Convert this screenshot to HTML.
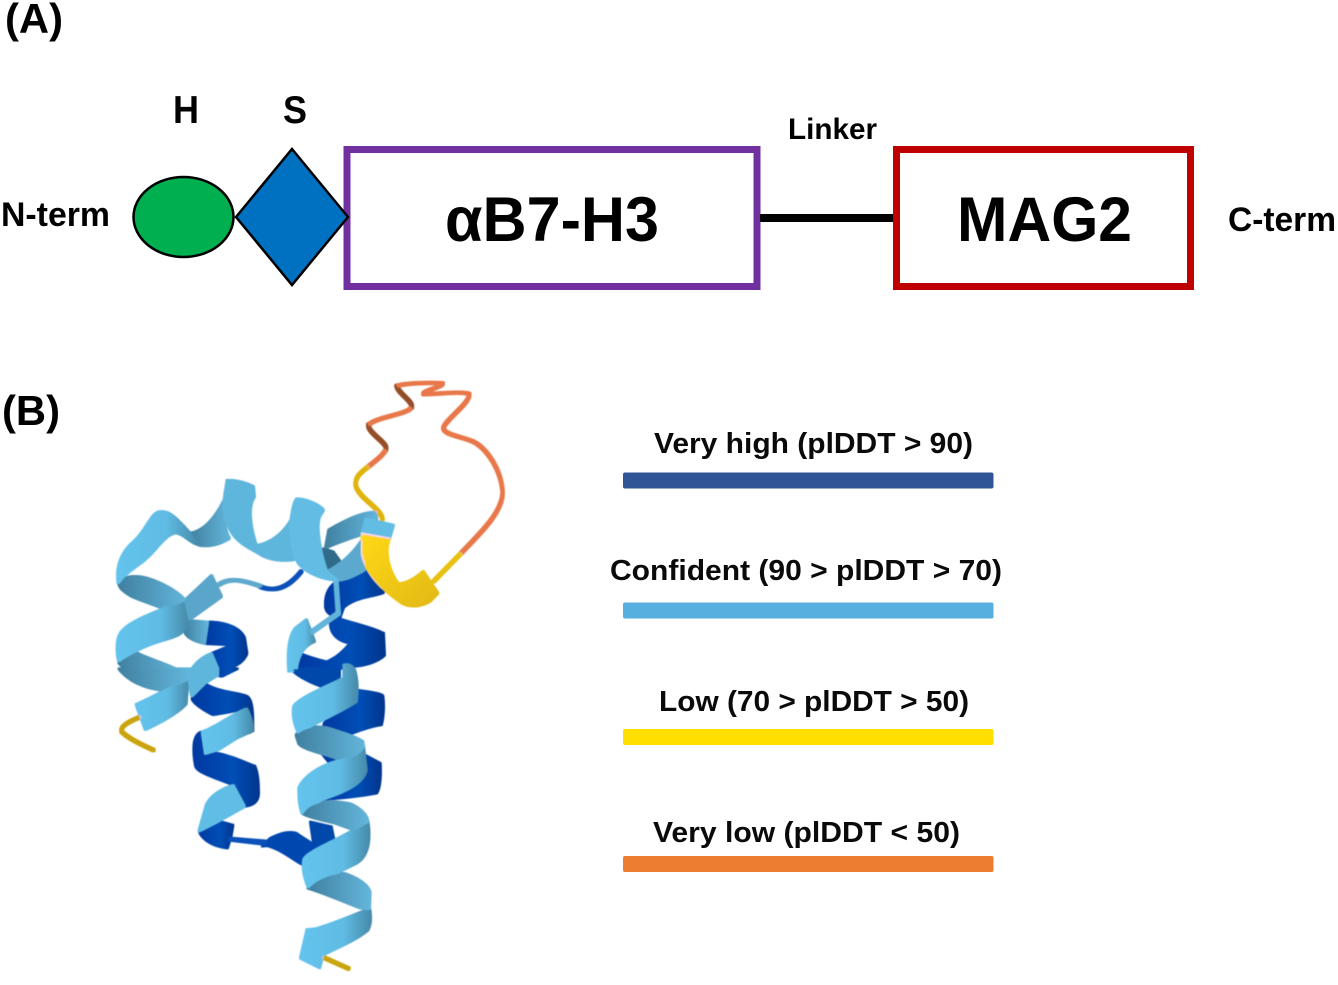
<!DOCTYPE html>
<html>
<head>
<meta charset="utf-8">
<style>
html,body{margin:0;padding:0;background:#fff;}
svg{display:block;}
text{font-family:"Liberation Sans",sans-serif;font-weight:bold;fill:#000;}
.lg{font-size:29px;fill:#0a0a0a;}
</style>
</head>
<body>
<svg width="1338" height="985" viewBox="0 0 1338 985" xmlns="http://www.w3.org/2000/svg">
<defs>
<linearGradient id="mid" x1="0" y1="0" x2="1" y2="0"><stop offset="0" stop-color="#3f7f9f"/><stop offset="1" stop-color="#62b4da"/></linearGradient>
<linearGradient id="lt" x1="0" y1="0" x2="1" y2="0"><stop offset="0" stop-color="#63c3ec"/><stop offset=".6" stop-color="#5fbbe3"/><stop offset="1" stop-color="#4588a8"/></linearGradient>
<linearGradient id="dk" x1="0" y1="0" x2="1" y2="0"><stop offset="0" stop-color="#0038a0"/><stop offset=".6" stop-color="#004db5"/><stop offset="1" stop-color="#00348c"/></linearGradient>
<linearGradient id="yl" x1="0" y1="0" x2="1" y2="1"><stop offset="0" stop-color="#ffd816"/><stop offset="1" stop-color="#e0b814"/></linearGradient>
<filter id="soft" filterUnits="userSpaceOnUse" x="80" y="360" width="450" height="620" color-interpolation-filters="sRGB">
  <feMorphology operator="dilate" radius="1"/>
  <feGaussianBlur stdDeviation="0.6"/>
</filter>
</defs>

<!-- Panel A -->
<text x="5" y="33" font-size="42" textLength="58" lengthAdjust="spacingAndGlyphs">(A)</text>
<text x="173" y="123" font-size="39" textLength="26" lengthAdjust="spacingAndGlyphs">H</text>
<text x="283" y="123" font-size="39" textLength="24" lengthAdjust="spacingAndGlyphs">S</text>
<text x="788" y="139" font-size="30" textLength="89" lengthAdjust="spacingAndGlyphs">Linker</text>
<text x="1" y="226" font-size="34" textLength="109" lengthAdjust="spacingAndGlyphs">N-term</text>
<text x="1228" y="231" font-size="34" textLength="108" lengthAdjust="spacingAndGlyphs">C-term</text>

<rect x="347" y="149.500" width="410" height="137" fill="none" stroke="#7030a0" stroke-width="7"/>
<rect x="896.500" y="149.500" width="294" height="137" fill="none" stroke="#c00000" stroke-width="7"/>
<ellipse cx="183.500" cy="217" rx="50" ry="40" fill="#00b050" stroke="#000" stroke-width="2.500"/>
<polygon points="292,149 348,217 292,285 236,217" fill="#0070c0" stroke="#000" stroke-width="2.500"/>
<rect x="760" y="214" width="133" height="8" fill="#000"/>
<text x="445" y="241" font-size="63" textLength="214" lengthAdjust="spacingAndGlyphs">αB7-H3</text>
<text x="957" y="241" font-size="63" textLength="175" lengthAdjust="spacingAndGlyphs">MAG2</text>

<!-- Panel B -->
<text x="2" y="425" font-size="42" textLength="58" lengthAdjust="spacingAndGlyphs">(B)</text>

<text class="lg" x="654" y="453" textLength="319" lengthAdjust="spacingAndGlyphs">Very high (plDDT &gt; 90)</text>
<rect x="623" y="472.500" width="370.500" height="16" rx="2" fill="#2f5597"/>
<text class="lg" x="610" y="580" textLength="392" lengthAdjust="spacingAndGlyphs">Confident (90 &gt; plDDT &gt; 70)</text>
<rect x="623" y="602.500" width="370.500" height="16" rx="2" fill="#56afdf"/>
<text class="lg" x="659" y="711" textLength="310" lengthAdjust="spacingAndGlyphs">Low (70 &gt; plDDT &gt; 50)</text>
<rect x="623" y="729" width="370.500" height="16" rx="2" fill="#ffdf00"/>
<text class="lg" x="653" y="842" textLength="307" lengthAdjust="spacingAndGlyphs">Very low (plDDT &lt; 50)</text>
<rect x="623" y="856" width="370.500" height="16" rx="2" fill="#ed7d31"/>

<g filter="url(#soft)">
<!-- Protein: upper part -->
<g transform="translate(90,370) scale(0.3333)">
  <!-- loops -->
  <path d="M1030,635 L1115,548" fill="none" stroke="#e8c010" stroke-width="8"/>
  <path d="M1115,548 C1170,490 1235,430 1238,370 C1235,300 1190,235 1150,215 C1110,198 1065,195 1060,175 C1065,150 1140,100 1138,72 C1110,62 1020,75 1000,72 C1000,62 1060,50 1058,40 C1030,38 950,38 920,48 C925,70 970,95 965,112 C950,135 860,140 835,165 C835,190 895,220 888,238 C880,255 860,270 835,290" fill="none" stroke="#e8784a" stroke-width="8" stroke-linejoin="round" stroke-linecap="round"/>
  <path d="M920,48 C925,70 970,95 965,112 M835,165 C835,190 895,220 888,238" fill="none" stroke="#8e4a26" stroke-width="8" stroke-linecap="round"/>
  <path d="M835,290 C815,305 795,320 797,345 C805,385 875,415 878,450" fill="none" stroke="#e0b40c" stroke-width="8"/>

  <!-- thin connector left -->
  <path d="M385,645 C420,620 465,632 515,650" fill="none" stroke="#5fa9cc" stroke-width="8"/>
  <path d="M510,650 C550,665 590,660 635,603" fill="none" stroke="#0b4fb8" stroke-width="8"/>

  <!-- back band -->
  <path d="M705,535 L715,480 C750,460 810,425 860,425 L862,450 L830,490 C780,505 740,520 705,535 Z" fill="url(#mid)"/>
  <path d="M700,535 C695,560 710,595 720,610 L755,580 L730,545 Z" fill="#2f6a88"/>

  <!-- dark blue right upper -->
  <path d="M745,632 L825,600 L882,668 C850,682 800,680 762,712 L750,745 C730,740 705,730 705,705 C705,670 720,645 745,632 Z" fill="url(#dk)"/>
  <path d="M620,845 C650,860 690,870 710,875 C750,860 775,825 780,820 C745,815 720,790 720,760 L745,745 C790,760 840,770 882,790 L885,855 C860,880 810,890 790,890 L700,905 L620,905 Z" fill="url(#dk)"/>

  <!-- thin connector right -->
  <path d="M738,630 L745,730 L660,790" fill="none" stroke="#62b4da" stroke-width="10" stroke-linejoin="round"/>
  <path d="M595,905 C590,850 595,800 615,775 L650,748 L675,815 C650,825 625,845 620,905 Z" fill="url(#lt)"/>

  <!-- left helix top -->
  <path d="M83,640 C75,590 95,545 130,515 C165,485 180,435 205,425 C235,415 265,450 300,488 L325,525 C295,515 280,490 255,490 C225,495 200,540 170,565 C150,585 115,600 85,640 Z" fill="url(#lt)"/>
  <path d="M300,488 C345,485 385,430 408,375 L405,440 C405,470 410,490 420,505 C390,525 345,535 325,525 Z" fill="url(#mid)"/>
  <path d="M410,330 C440,328 475,340 492,350 L495,380 C478,400 478,460 500,525 C540,520 580,490 602,450 L612,570 C590,575 540,575 505,550 C470,530 420,510 405,440 C395,400 405,370 410,330 Z" fill="#5fb6dc"/>
  <path d="M620,385 C650,385 690,405 702,420 L690,440 C680,470 690,540 710,600 L745,632 C700,630 650,610 625,580 C605,550 595,470 605,430 C608,410 612,395 620,385 Z" fill="#62bce4"/>
  <path d="M710,605 C750,585 790,550 815,510 L825,600 C800,615 770,630 745,632 Z" fill="#5ba9cf"/>

  <!-- yellow helix -->
  <path d="M828,445 L912,465 L900,505 L815,490 Z" fill="#62bce4"/>
  <path d="M815,490 L900,505 C885,540 895,600 925,640 C950,640 975,625 1000,603 L1045,670 L1020,695 C990,712 960,715 935,700 C880,660 830,620 815,550 Z" fill="url(#yl)"/>

  <!-- left helix second turn -->
  <path d="M85,640 C110,610 150,615 190,630 C230,645 270,670 285,690 L290,745 C240,720 170,700 125,680 C100,665 88,655 85,640 Z" fill="url(#mid)"/>
  <path d="M285,690 L365,615 L396,680 L298,750 Z" fill="#5aa5ca"/>
  <path d="M290,750 L355,755 L345,822 C315,815 295,805 285,790 Z" fill="url(#mid)"/>
  <path d="M355,755 C400,755 450,770 465,805 L472,850 C460,880 430,895 385,905 L365,850 C385,842 400,835 425,826 L345,822 Z" fill="url(#dk)"/>
  <path d="M85,800 C100,760 170,735 285,690 L295,750 C290,790 260,800 225,810 C170,825 120,850 85,875 C78,850 78,820 85,800 Z" fill="url(#lt)"/>
  <path d="M85,878 L135,845 C170,865 230,880 275,905 L110,905 Z" fill="url(#mid)"/>
  <path d="M300,905 C320,870 350,855 365,850 L388,905 Z" fill="#5fb6dc"/>
</g>

<!-- Protein: lower part -->
<g transform="translate(90,670) scale(0.3333)">
  <!-- tails -->
  <path d="M148,142 C115,155 90,170 95,185 C115,205 150,222 190,240" fill="none" stroke="#c9a40c" stroke-width="8" stroke-linecap="round"/>
  <path d="M700,862 L778,897" fill="none" stroke="#c9a40c" stroke-width="8"/>

  <!-- left helix bottom -->
  <path d="M85,-5 C120,40 170,55 215,62 L295,30 L295,-5 Z" fill="url(#mid)"/>
  <path d="M137,103 C180,85 220,60 295,28 L290,100 C270,125 220,155 165,180 Z" fill="url(#lt)"/>

  <!-- middle helix -->
  <path d="M385,-5 L445,-5 L395,20 L375,15 Z" fill="url(#dk)"/>
  <path d="M305,85 C315,60 335,45 345,40 C380,65 440,65 470,78 C490,90 490,130 490,182 L475,190 L470,115 C430,125 400,130 370,135 C340,120 310,100 305,85 Z" fill="url(#dk)"/>
  <path d="M335,185 C310,195 305,230 315,285 C320,305 350,315 430,345 L465,410 C490,405 505,395 507,370 C507,340 505,310 495,288 C470,280 420,255 375,248 L345,252 Z" fill="url(#dk)"/>
  <path d="M335,185 C380,170 430,130 470,115 C485,140 490,170 488,183 L440,205 L385,240 L345,252 Z" fill="url(#lt)"/>
  <path d="M430,345 C380,360 350,390 345,415 L325,485 C360,470 420,435 465,410 Z" fill="#5fbde6"/>
  <path d="M300,-5 L385,-5 L385,15 L345,40 L305,80 C295,50 295,20 300,-5 Z" fill="#5fb6dc"/>

  <!-- bottom turn -->
  <path d="M328,487 L393,455 L430,465 L425,495 L413,535 C370,530 340,510 328,487 Z" fill="url(#dk)"/>
  <path d="M420,503 L530,512 L530,525 L418,512 Z" fill="#0a50b8"/>
  <path d="M660,455 L725,470 L735,520 L680,540 L668,510 Z" fill="#0048aa"/>
  <path d="M515,530 L540,505 C570,490 600,480 620,490 C640,505 670,520 685,535 L640,585 C610,570 570,535 530,528 Z" fill="#0048b0"/>

  <!-- right helix: dark blue behind -->
  <path d="M600,-5 C630,25 670,40 695,50 L750,20 L750,-5 Z" fill="#0048aa"/>
  <path d="M765,110 L805,60 C840,65 880,70 880,80 C885,110 880,150 875,165 C840,170 800,185 775,195 L700,165 C710,145 740,125 770,112 Z" fill="url(#dk)"/>
  <path d="M695,250 L740,270 L825,255 L872,280 C875,320 870,360 860,370 C810,380 750,385 695,390 L760,330 Z" fill="url(#dk)"/>

  <!-- right helix: light bands -->
  <path d="M760,-15 C775,-22 790,-10 795,0 C805,30 805,70 800,95 C770,115 720,140 670,165 L625,190 C610,160 605,130 610,110 C620,90 680,60 760,25 Z" fill="url(#lt)"/>
  <path d="M617,195 C640,165 690,165 720,175 C760,188 800,200 820,215 L825,255 C800,265 780,265 750,270 C700,250 640,240 625,220 Z" fill="url(#mid)"/>
  <path d="M625,355 C640,320 690,285 745,272 C780,265 810,250 822,230 L830,300 C820,340 770,365 695,390 L635,430 C625,400 625,375 625,355 Z" fill="url(#lt)"/>
  <path d="M637,430 C660,385 730,390 780,400 C815,415 835,440 835,455 L835,480 L790,480 L735,460 C690,450 650,440 637,430 Z" fill="url(#mid)"/>
  <path d="M640,570 C650,545 730,515 790,480 L835,455 C845,510 835,560 800,580 L750,605 L655,655 C640,620 635,590 640,570 Z" fill="url(#lt)"/>
  <path d="M652,655 C680,620 740,605 765,610 C810,625 840,650 842,670 L840,720 L810,715 C760,695 700,670 652,655 Z" fill="url(#mid)"/>
  <path d="M650,778 L680,775 C730,760 790,735 840,715 C845,740 845,760 835,780 C800,810 750,830 700,855 L690,895 L630,865 Z" fill="url(#lt)"/>
</g>
</g>
</svg>
</body>
</html>
